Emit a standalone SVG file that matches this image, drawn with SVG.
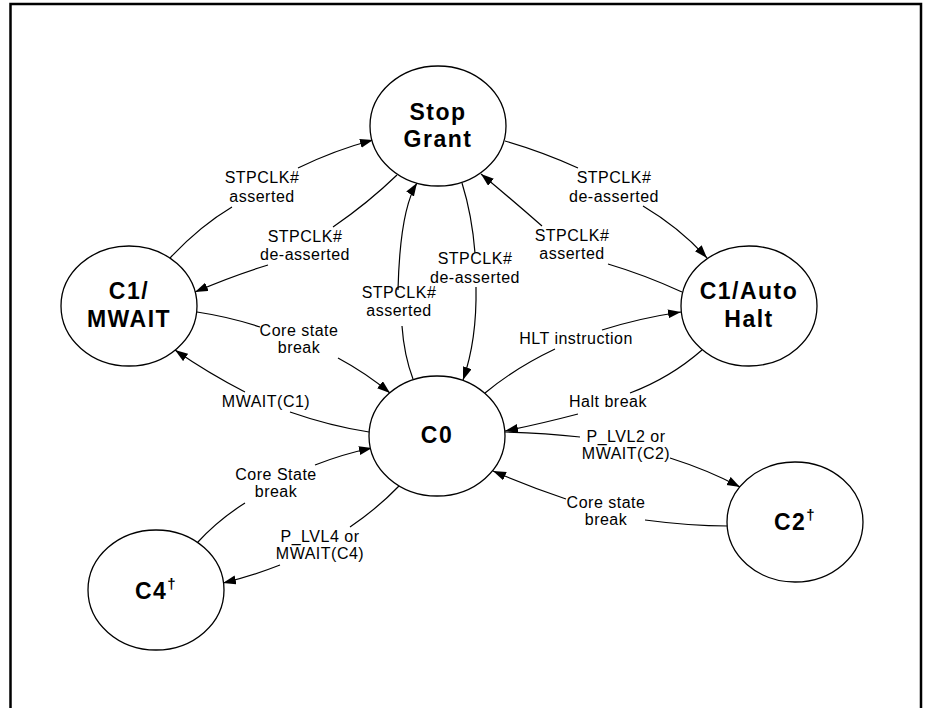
<svg xmlns="http://www.w3.org/2000/svg" width="932" height="708" viewBox="0 0 932 708">
<defs>
<marker id="ah" markerUnits="userSpaceOnUse" markerWidth="14" markerHeight="10" refX="13" refY="4.5" orient="auto">
<path d="M0,0 L13,4.5 L0,9 z" fill="#000"/>
</marker>
<style>
.node ellipse{fill:#fff;stroke:#000;stroke-width:1.3}
.nt{font-family:"Liberation Sans",Arial,sans-serif;font-weight:bold;font-size:23px;letter-spacing:1.5px;text-anchor:middle;fill:#000}
.lb{font-family:"Liberation Sans",Arial,sans-serif;font-size:16px;letter-spacing:0.5px;text-anchor:middle;fill:#000}
.c path{fill:none;stroke:#000;stroke-width:1.2}
.c path.a{marker-end:url(#ah)}
.frame{stroke:#000;stroke-width:2.5;fill:none}
</style>
</defs>
<rect width="932" height="708" fill="#fff"/>
<path class="frame" d="M10.5,720 V4 H921 V720"/>

<g id="connectors" class="c">
<path d="M170,258 Q200,226 232,207"/>
<path class="a" d="M298,168 Q335,150 373,140"/>
<path d="M397,175 Q368,203 333,227"/>
<path class="a" d="M268,265 Q232,276 195,292"/>
<path d="M413,379 Q404,355 402,326"/>
<path class="a" d="M398,290 Q400,210 417,183"/>
<path d="M462,183 Q472,215 475,253"/>
<path class="a" d="M476,287 Q477,340 463,380"/>
<path d="M505,141 Q543,152 578,168"/>
<path class="a" d="M643,206 Q680,228 707,258"/>
<path d="M682,292 Q645,275 608,264"/>
<path class="a" d="M542,226 Q510,198 481,174"/>
<path d="M485,393 Q515,368 555,349"/>
<path class="a" d="M602,330 Q640,318 681,312"/>
<path d="M702,350 Q670,378 630,393"/>
<path class="a" d="M578,414 Q540,424 505,431"/>
<path d="M505,432 Q545,433 580,437"/>
<path class="a" d="M670,458 Q708,470 740,487"/>
<path d="M728,526 Q690,526 645,520"/>
<path class="a" d="M566,499 Q530,487 493,471"/>
<path d="M197,312 Q230,317 260,327"/>
<path class="a" d="M338,358 Q366,373 390,393"/>
<path d="M369,432 Q330,426 290,412"/>
<path class="a" d="M245,392 Q208,373 175,350"/>
<path d="M197,543 Q218,520 245,503"/>
<path class="a" d="M315,465 Q343,454 372,448"/>
<path d="M400,485 Q378,508 350,527"/>
<path class="a" d="M280,565 Q252,576 223,583"/>
</g>

<g id="labels">
<text class="lb" x="262" y="183">STPCLK#</text>
<text class="lb" x="262" y="202">asserted</text>
<text class="lb" x="305" y="242">STPCLK#</text>
<text class="lb" x="305" y="260">de-asserted</text>
<text class="lb" x="399" y="298">STPCLK#</text>
<text class="lb" x="399" y="316">asserted</text>
<text class="lb" x="475" y="264">STPCLK#</text>
<text class="lb" x="475" y="283">de-asserted</text>
<text class="lb" x="614" y="183">STPCLK#</text>
<text class="lb" x="614" y="202">de-asserted</text>
<text class="lb" x="572" y="241">STPCLK#</text>
<text class="lb" x="572" y="259">asserted</text>
<text class="lb" x="576" y="344">HLT instruction</text>
<text class="lb" x="299" y="336">Core state</text>
<text class="lb" x="299" y="353">break</text>
<text class="lb" x="266" y="407">MWAIT(C1)</text>
<text class="lb" x="608" y="407">Halt break</text>
<text class="lb" x="626" y="442">P_LVL2 or</text>
<text class="lb" x="626" y="459">MWAIT(C2)</text>
<text class="lb" x="606" y="508">Core state</text>
<text class="lb" x="606" y="525">break</text>
<text class="lb" x="276" y="480">Core State</text>
<text class="lb" x="276" y="497">break</text>
<text class="lb" x="320" y="542">P_LVL4 or</text>
<text class="lb" x="320" y="559">MWAIT(C4)</text>
</g>

<g id="stopgrant" class="node">
<ellipse cx="438" cy="126" rx="68" ry="60"/>
<text class="nt" x="438" y="120">Stop</text>
<text class="nt" x="438" y="147">Grant</text>
</g>
<g id="c1mwait" class="node">
<ellipse cx="129" cy="306" rx="68" ry="60"/>
<text class="nt" x="129" y="299">C1/</text>
<text class="nt" x="129" y="327">MWAIT</text>
</g>
<g id="c1autohalt" class="node">
<ellipse cx="749" cy="306" rx="68" ry="60"/>
<text class="nt" x="749" y="299">C1/Auto</text>
<text class="nt" x="749" y="327">Halt</text>
</g>
<g id="c0" class="node">
<ellipse cx="437" cy="436" rx="68" ry="60"/>
<text class="nt" x="437" y="443">C0</text>
</g>
<g id="c2" class="node">
<ellipse cx="795" cy="522" rx="68" ry="60"/>
<text class="nt" x="795" y="530">C2<tspan dy="-10" font-size="15">†</tspan></text>
</g>
<g id="c4" class="node">
<ellipse cx="156" cy="590" rx="68" ry="60"/>
<text class="nt" x="156" y="599">C4<tspan dy="-10" font-size="15">†</tspan></text>
</g>
</svg>
